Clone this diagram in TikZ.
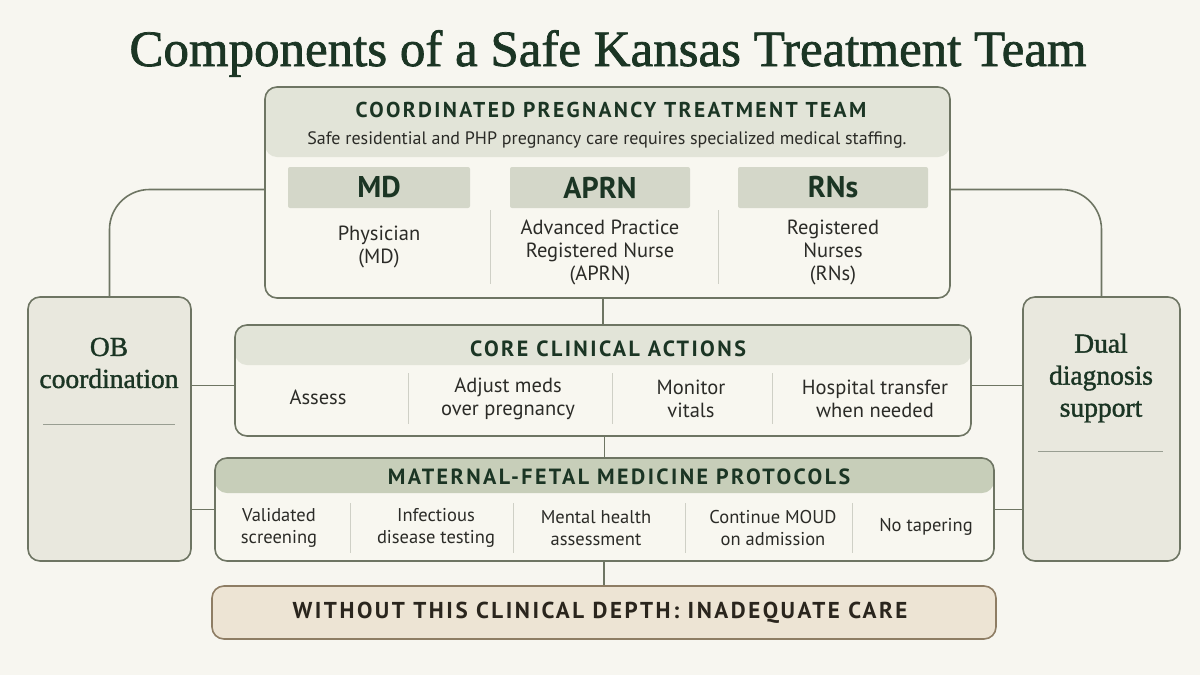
\documentclass[tikz,border=0pt]{standalone}
\usepackage{fontspec}
\setmainfont{Liberation Serif}
\newfontfamily\heavyserif{Liberation Serif}[FakeBold=1.4]
\newfontfamily\sansf{PT Sans}
\newfontfamily\capsf{PT Sans}[LetterSpace=11]
\usetikzlibrary{calc}
\definecolor{bgc}{HTML}{F7F6F0}
\definecolor{bordc}{HTML}{6E7563}
\definecolor{hdrc}{HTML}{E2E4D8}
\definecolor{bodyc}{HTML}{F8F7F0}
\definecolor{subc}{HTML}{D4D7C9}
\definecolor{mfmc}{HTML}{C7CEB9}
\definecolor{sidec}{HTML}{E9E8DE}
\definecolor{botfill}{HTML}{EDE4D4}
\definecolor{botbord}{HTML}{8E7D64}
\definecolor{titlec}{HTML}{1B3524}
\definecolor{txtc}{HTML}{2B2B27}
\definecolor{divc}{HTML}{CFD0C6}
\definecolor{botc}{HTML}{2A251D}
\begin{document}
\begin{tikzpicture}[x=1pt,y=-1pt,
  box/.style={rounded corners=12pt, draw=bordc, line width=1.6pt, fill=bodyc, inner sep=0pt},
  hdrband/.style 2 args={path picture={\fill[#1] (path picture bounding box.north west) rectangle ([yshift=-#2]path picture bounding box.north east);}},
  conn/.style={draw=bordc, line width=1.6pt},
  divline/.style={draw=divc, line width=1pt},
  hdtext/.style={text=titlec, font=\capsf\bfseries\fontsize{22}{26}\selectfont},
  subbox/.style={fill=subc, rounded corners=2pt, inner sep=0pt, text=titlec, font=\sansf\bfseries\fontsize{30}{32}\selectfont},
  item/.style={text=txtc, align=center, font=\sansf\fontsize{20.5}{23}\selectfont},
  mitem/.style={text=txtc, align=center, font=\sansf\fontsize{18.5}{22}\selectfont},
  sidetext/.style={text=titlec, align=center, font=\heavyserif\fontsize{27.5}{32}\selectfont}
]
\useasboundingbox (0,0) rectangle (1200,675);
\fill[bgc] (0,0) rectangle (1200,675);

% title
\node[anchor=base, text=titlec, inner sep=0pt] (title) at (608,66)
  {\resizebox{957pt}{!}{\heavyserif\fontsize{50}{50}\selectfont Components of a Safe Kansas Treatment Team}};

% main boxes
\node[box, hdrband={hdrc}{70pt}, minimum width=685pt, minimum height=211pt] (top) at (607.5,192.5) {};
\node[box, hdrband={hdrc}{40pt}, minimum width=736pt, minimum height=111pt] (core) at (603,380.5) {};
\node[box, hdrband={mfmc}{35pt}, minimum width=779pt, minimum height=103pt] (mfm) at (604.5,509.5) {};
\node[box, fill=botfill, draw=botbord, minimum width=784pt, minimum height=53pt] (bot) at (604,612.5) {};
\node[box, fill=sidec, minimum width=163pt, minimum height=264pt] (ob) at (109.5,429) {};
\node[box, fill=sidec, minimum width=157pt, minimum height=264pt] (dual) at (1101.5,429) {};

% connector anchor points
\coordinate (tw) at ([yshift=3pt]top.west);
\coordinate (te) at ([yshift=3pt]top.east);
\coordinate (cw) at ([yshift=-5pt]core.west);
\coordinate (ce) at ([yshift=-5pt]core.east);

% connectors
\draw[conn, rounded corners=40pt] (tw) -| (ob.north);
\draw[conn, rounded corners=40pt] (te) -| (dual.north);
\draw[conn] (top.south -| core.north) -- (core.north);
\draw[conn] (mfm.north |- core.south) -- (mfm.north);
\draw[conn] (mfm.south -| bot.north) -- (bot.north);
\draw[conn] (ob.east |- cw) -- (cw);
\draw[conn] (ob.east |- mfm.west) -- (mfm.west);
\draw[conn] (ce) -- (dual.west |- ce);
\draw[conn] (mfm.east) -- (dual.west |- mfm.east);

% top box content
\node[hdtext, font=\capsf\bfseries\fontsize{21.5}{26}\selectfont] (tophd) at (611,110) {COORDINATED PREGNANCY TREATMENT TEAM};
\node[text=txtc, font=\sansf\fontsize{18}{21}\selectfont] (topsub) at (607,140) {Safe residential and PHP pregnancy care requires specialized medical staffing.};
\node[subbox, minimum width=182pt, minimum height=41pt] (md) at (379,187.5) {MD};
\node[subbox, minimum width=180pt, minimum height=41pt] (aprn) at (600,187.5) {APRN};
\node[subbox, minimum width=190pt, minimum height=41pt] (rns) at (833,187.5) {RNs};
\node[item] (mdt) at (379,247) {Physician\\(MD)};
\node[item] (aprnt) at (600,252) {Advanced Practice\\Registered Nurse\\(APRN)};
\node[item] (rnst) at (833,252) {Registered\\Nurses\\(RNs)};
\coordinate (d1a) at (490,210); \coordinate (d1b) at (490,284);
\coordinate (d2a) at (718,210); \coordinate (d2b) at (718,284);
\draw[divline] (d1a) -- (d1b);
\draw[divline] (d2a) -- (d2b);

% core content
\node[hdtext] (corehd) at (608,349) {CORE CLINICAL ACTIONS};
\node[item] (c1) at (318,397) {Assess};
\node[item] (c2) at (508,399) {Adjust meds\\over pregnancy};
\node[item] (c3) at (691,399) {Monitor\\vitals};
\node[item] (c4) at (875,399) {Hospital transfer\\when needed};
\foreach \xx [count=\i] in {408,612,772}{
  \coordinate (cda\i) at (\xx,373); \coordinate (cdb\i) at (\xx,424);
  \draw[divline] (cda\i) -- (cdb\i);
}

% mfm content
\node[hdtext] (mfmhd) at (619,477) {MATERNAL-FETAL MEDICINE PROTOCOLS};
\node[mitem] (m1) at (279,528) {Validated\\screening};
\node[mitem] (m2) at (436,528) {Infectious\\disease testing};
\node[mitem] (m3) at (596,528) {Mental health\\assessment};
\node[mitem] (m4) at (773,528) {Continue MOUD\\on admission};
\node[mitem] (m5) at (926,527) {No tapering};
\foreach \xx [count=\i] in {350,513,685,852}{
  \coordinate (mda\i) at (\xx,503); \coordinate (mdb\i) at (\xx,553);
  \draw[divline] (mda\i) -- (mdb\i);
}

% bottom
\node[text=botc, font=\capsf\bfseries\fontsize{23}{26}\selectfont] (bott) at (600,613) {WITHOUT THIS CLINICAL DEPTH: INADEQUATE CARE};

% side boxes
\node[sidetext] (obt) at (109,363) {OB\\coordination};
\coordinate (obla) at (43,424); \coordinate (oblb) at (175,424);
\draw[draw=bordc!70, line width=1pt] (obla) -- (oblb);
\node[sidetext] (dualt) at (1101,378) {Dual\\diagnosis\\support};
\coordinate (dla) at (1038,451); \coordinate (dlb) at (1163,451);
\draw[draw=bordc!70, line width=1pt] (dla) -- (dlb);
\end{tikzpicture}
\end{document}
